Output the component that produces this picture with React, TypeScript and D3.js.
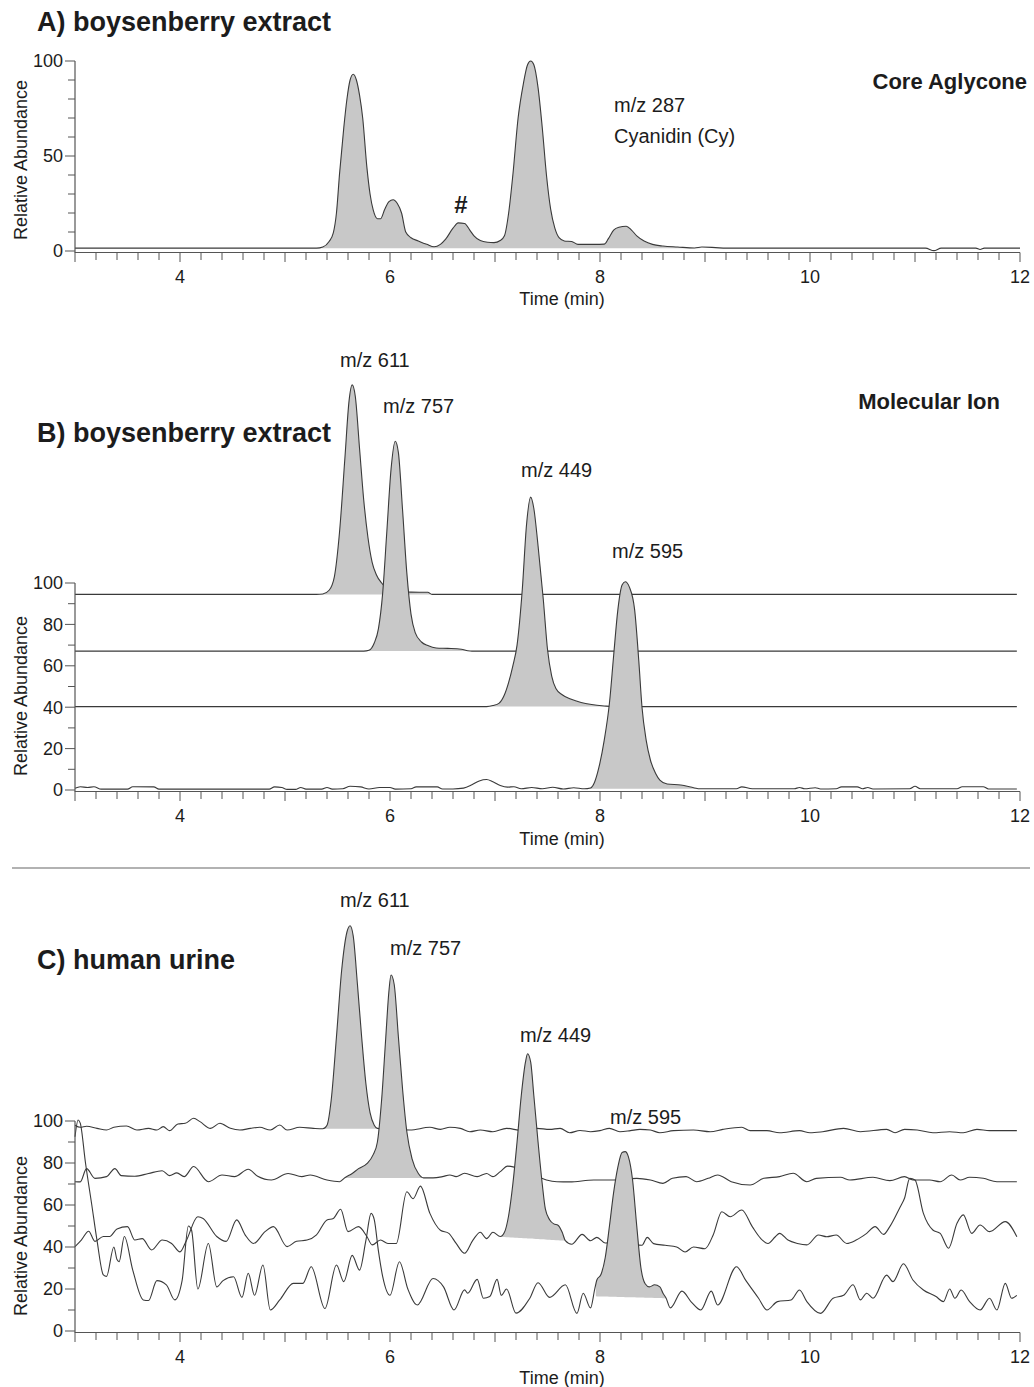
import React from "react";
import * as d3 from "d3";

type Pt = [number, number];
type Fill = [number, number, number, number]; // t start, t end, base at start, base at end

const xLabels = [4, 6, 8, 10, 12];
const yLabelsA = [0, 50, 100];
const yLabelsBC = [0, 20, 40, 60, 80, 100];

// A) boysenberry extract, m/z 287 (core aglycone)
const aglycone287: Pt[] = [
  [3, 1.5], [5.3, 1.5], [5.36, 2.1], [5.42, 5], [5.46, 9.5], [5.49, 20], [5.52, 41], [5.56, 65], [5.59, 80],
  [5.62, 90], [5.65, 93], [5.68, 90], [5.71, 82], [5.74, 70], [5.78, 44], [5.81, 30], [5.84, 21.6], [5.88, 17],
  [5.91, 17], [5.95, 22], [5.99, 26], [6.03, 27], [6.07, 25], [6.11, 20], [6.15, 10], [6.2, 7], [6.27, 5.3],
  [6.35, 3.5], [6.42, 2.2], [6.48, 3.5], [6.53, 6.2], [6.6, 12], [6.65, 14.8], [6.71, 14.5], [6.76, 11], [6.8, 8],
  [6.86, 5.5], [6.93, 4.6], [6.99, 4.4], [7.05, 5.5], [7.09, 8], [7.13, 20], [7.17, 40], [7.22, 70], [7.27, 88],
  [7.31, 98], [7.34, 100], [7.37, 98], [7.41, 86], [7.45, 65], [7.49, 40], [7.53, 22], [7.57, 12], [7.61, 7],
  [7.66, 5.3], [7.73, 5.0], [7.79, 3.5], [7.95, 3.5], [8.04, 3.6], [8.08, 6.5], [8.13, 11], [8.18, 12.5],
  [8.25, 13], [8.3, 11], [8.35, 8], [8.42, 5.3], [8.5, 3.5], [8.6, 2.6], [8.74, 2.1], [8.9, 1.6], [8.97, 2.1],
  [9.1, 1.8], [9.2, 1.5], [11.1, 1.5], [11.18, 0.2], [11.25, 1.5], [11.58, 1.5], [11.62, 0.8], [11.66, 1.5], [12, 1.5],
];
const aglyconeFill: Fill = [5.3, 8.95, 1.5, 1.5];

// B) boysenberry extract, molecular ions (stacked)
const extract611: Pt[] = [
  [3, 94.5], [5.3, 94.5], [5.36, 94.7], [5.42, 96.5], [5.47, 103], [5.52, 125], [5.57, 160], [5.61, 188],
  [5.64, 195.7], [5.67, 190], [5.71, 165], [5.75, 140], [5.79, 122], [5.83, 110], [5.87, 104], [5.92, 100],
  [5.97, 97.5], [6.05, 96], [6.2, 95.6], [6.36, 95.5], [6.4, 94.5], [11.97, 94.5],
];
const extract757: Pt[] = [
  [3, 67.1], [5.75, 67.1], [5.8, 67.5], [5.85, 71], [5.89, 78], [5.93, 95], [5.97, 125], [6.01, 155],
  [6.05, 168.5], [6.08, 163], [6.12, 135], [6.16, 105], [6.2, 85], [6.24, 76], [6.3, 71.5], [6.36, 69.8],
  [6.44, 68.6], [6.55, 68.4], [6.68, 68], [6.74, 67.3], [6.78, 67.1], [11.97, 67.1],
];
const extract449: Pt[] = [
  [3, 40.3], [6.92, 40.3], [6.98, 40.8], [7.04, 42], [7.09, 46], [7.13, 52], [7.17, 60], [7.21, 70], [7.26, 97],
  [7.3, 128], [7.34, 141.5], [7.37, 136], [7.41, 118], [7.46, 92], [7.5, 68], [7.54, 55], [7.58, 49], [7.64, 46],
  [7.72, 44], [7.82, 42.3], [7.92, 41.3], [8.04, 40.6], [8.12, 40.3], [11.97, 40.3],
];
const extract595: Pt[] = [
  [3.0, 0.8], [3.05, 1.6], [3.12, 1.2], [3.18, 1.6], [3.25, 0.4], [3.5, 0.4], [3.55, 1.6], [3.75, 1.5], [3.8, 0.4],
  [4.85, 0.4], [4.9, 1.5], [4.97, 1.2], [5.02, 0.3], [5.1, 0.3], [5.15, 1.2], [5.2, 0.4], [5.35, 0.4], [5.4, 1.2],
  [5.45, 0.4], [5.55, 0.6], [5.62, 1.8], [5.72, 1.5], [5.8, 0.5], [5.9, 1.2], [6.0, 1.2], [6.05, 0.4], [6.2, 0.6],
  [6.25, 1.5], [6.45, 1.5], [6.5, 0.5], [6.6, 0.5], [6.7, 0.9], [6.78, 2.5], [6.85, 4.4], [6.92, 5.1], [6.98, 4],
  [7.05, 2.2], [7.12, 1.4], [7.18, 1.6], [7.25, 0.6], [7.35, 1.2], [7.45, 0.6], [7.55, 1.3], [7.65, 0.5],
  [7.75, 1.1], [7.85, 0.6], [7.91, 1], [7.95, 4], [7.99, 11], [8.04, 24], [8.09, 42], [8.13, 65], [8.17, 87],
  [8.21, 99], [8.24, 100.6], [8.28, 98], [8.33, 87], [8.37, 62], [8.4, 40], [8.44, 24], [8.48, 14.5], [8.53, 8],
  [8.57, 4.8], [8.64, 2.9], [8.77, 2.4], [8.9, 1], [8.95, 0.6], [9.3, 0.6], [9.35, 1.5], [9.45, 0.6], [9.85, 0.6],
  [9.9, 1.2], [9.95, 0.6], [10.05, 1.1], [10.1, 0.5], [10.25, 0.6], [10.3, 1.5], [10.45, 1.5], [10.5, 0.6],
  [10.55, 1.2], [10.6, 0.5], [10.95, 0.6], [11.0, 1.8], [11.05, 0.6], [11.4, 0.6], [11.45, 1.6], [11.65, 1.6],
  [11.7, 0.5], [11.97, 0.5],
];
const extractFills: Fill[] = [
  [5.3, 6.4, 94.5, 94.5],
  [5.75, 6.78, 67.1, 67.1],
  [6.92, 8.12, 40.3, 40.3],
  [7.85, 8.95, 0.6, 0.6],
];

// C) human urine, molecular ions (stacked)
const urine611: Pt[] = [
  [3.0, 98], [3.05, 97], [3.11, 97.5], [3.21, 96.5], [3.3, 95.7], [3.37, 97], [3.49, 97.6], [3.59, 95.7],
  [3.7, 96.5], [3.78, 95.7], [3.84, 97.3], [3.9, 95.4], [3.98, 98.6], [4.05, 98.9], [4.13, 101.3], [4.19, 99.7],
  [4.29, 96.5], [4.38, 98.9], [4.48, 96.5], [4.57, 95.7], [4.67, 96.5], [4.76, 97], [4.86, 95.7], [4.95, 98.1],
  [5.02, 95.7], [5.14, 97], [5.27, 96.5], [5.36, 96.3], [5.4, 98], [5.44, 110], [5.49, 140], [5.54, 172],
  [5.59, 190], [5.62, 193], [5.65, 188], [5.69, 165], [5.73, 140], [5.77, 118], [5.81, 104], [5.85, 98],
  [5.88, 96.5], [6.0, 96], [6.19, 95.7], [6.38, 97], [6.48, 96], [6.57, 97], [6.67, 96.5], [6.76, 94.9],
  [6.86, 95.7], [6.98, 94.9], [7.11, 96.5], [7.25, 95.5], [7.4, 96.5], [7.52, 96], [7.62, 96.5], [7.71, 94.4],
  [7.81, 95.5], [7.91, 94.9], [8.0, 95.4], [8.09, 96.5], [8.19, 94.9], [8.29, 95.4], [8.38, 96], [8.48, 95.7],
  [8.57, 94.4], [8.7, 95.4], [8.89, 95.7], [9.05, 94.9], [9.17, 96], [9.35, 97], [9.43, 95.4], [9.59, 95.4],
  [9.71, 94.4], [9.9, 95.4], [10.0, 94.4], [10.12, 94.9], [10.32, 96.5], [10.48, 94.9], [10.73, 96],
  [10.81, 94.4], [10.9, 96], [11.02, 95.7], [11.17, 94.4], [11.33, 94.9], [11.46, 94.4], [11.59, 96],
  [11.71, 95.4], [11.97, 95.4],
];
const urine757: Pt[] = [
  [3.0, 71.1], [3.05, 71], [3.11, 77.3], [3.19, 72.7], [3.3, 73.5], [3.38, 77.3], [3.44, 74], [3.57, 73.7],
  [3.7, 75], [3.83, 76.3], [3.9, 74], [3.97, 75.3], [4.04, 73.5], [4.13, 78.3], [4.27, 71.1], [4.4, 74.3],
  [4.52, 73.5], [4.65, 77], [4.74, 73.7], [4.87, 71.9], [5.03, 75], [5.16, 73.5], [5.24, 74.3], [5.4, 71.9],
  [5.52, 71.1], [5.57, 73], [5.64, 75], [5.7, 77.3], [5.78, 79.7], [5.84, 84], [5.88, 90], [5.92, 110],
  [5.96, 140], [5.99, 162], [6.01, 169.5], [6.04, 165], [6.08, 140], [6.12, 115], [6.16, 95], [6.21, 82],
  [6.27, 75], [6.32, 72.9], [6.41, 72.9], [6.5, 73.5], [6.57, 74.3], [6.63, 73.5], [6.71, 75.1], [6.83, 73.5],
  [6.92, 75], [6.98, 73.5], [7.05, 75.9], [7.12, 78.5], [7.3, 76], [7.49, 71.9], [7.59, 71.1], [7.71, 71],
  [7.94, 71.9], [8.13, 71.9], [8.35, 72.7], [8.48, 71.9], [8.6, 70.3], [8.69, 72.7], [8.82, 73.5], [8.92, 71.1],
  [9.03, 72.7], [9.12, 74.3], [9.25, 71.1], [9.43, 69.5], [9.56, 72.7], [9.71, 73.5], [9.84, 75.1], [9.97, 71.1],
  [10.06, 72.7], [10.29, 73.2], [10.38, 71.9], [10.6, 73.2], [10.76, 71.6], [10.9, 73.5], [10.98, 71.9],
  [11.14, 71.9], [11.24, 71.1], [11.35, 74.3], [11.43, 71.9], [11.52, 73.2], [11.65, 72.7], [11.78, 71.1],
  [11.97, 71.1],
];
const urine449: Pt[] = [
  [3.0, 40.2], [3.06, 43.3], [3.13, 47.5], [3.19, 42.7], [3.27, 45], [3.33, 45], [3.4, 48.6], [3.5, 49.7],
  [3.57, 43.3], [3.64, 44], [3.73, 38.6], [3.83, 43.3], [3.92, 41.7], [4.0, 37.7], [4.06, 43], [4.17, 54.4],
  [4.22, 53.6], [4.35, 45], [4.44, 42.7], [4.54, 52.9], [4.62, 45.8], [4.7, 41.7], [4.81, 47.3], [4.89, 49.7],
  [5.02, 40.2], [5.11, 42.7], [5.21, 43.3], [5.3, 45.8], [5.4, 52.9], [5.46, 53.6], [5.53, 58], [5.6, 47.3],
  [5.7, 49.7], [5.78, 45], [5.83, 41], [5.91, 43.3], [5.98, 41.7], [6.06, 41.7], [6.16, 66.3], [6.22, 63],
  [6.29, 69], [6.38, 56], [6.48, 48], [6.56, 46.5], [6.63, 41.7], [6.71, 37], [6.79, 43.3], [6.86, 47],
  [6.92, 44], [6.98, 47], [7.05, 45], [7.09, 47], [7.13, 55], [7.17, 70], [7.21, 90], [7.25, 112], [7.29, 128],
  [7.31, 132], [7.34, 128], [7.37, 112], [7.41, 90], [7.45, 70], [7.48, 58], [7.52, 53], [7.56, 51],
  [7.6, 50.4], [7.64, 47], [7.67, 43], [7.73, 41.3], [7.83, 46], [7.91, 43], [7.97, 44.6], [8.05, 41.9],
  [8.2, 42], [8.33, 41], [8.4, 40.8], [8.45, 44.6], [8.51, 41.6], [8.62, 40.8], [8.73, 40], [8.81, 37.6],
  [8.89, 40], [9.0, 39.2], [9.08, 46], [9.16, 56.8], [9.24, 54.4], [9.35, 57.6], [9.45, 49.7], [9.53, 44.1],
  [9.6, 41.7], [9.67, 44.9], [9.71, 46.5], [9.79, 43.3], [9.88, 41.7], [9.97, 41], [10.08, 45.7], [10.16, 44.9],
  [10.25, 45.7], [10.35, 41.7], [10.44, 43.3], [10.54, 46.5], [10.62, 49.7], [10.7, 46], [10.76, 49.7],
  [10.86, 59.2], [10.9, 63.2], [10.95, 72.7], [11.0, 71.9], [11.08, 56], [11.17, 48.1], [11.24, 46.5],
  [11.32, 39.4], [11.4, 51.3], [11.46, 55.3], [11.54, 46.5], [11.62, 50.5], [11.71, 47.3], [11.86, 52.1],
  [11.97, 44.9],
];
const urine595: Pt[] = [
  [3.0, 92.5], [3.03, 100.5], [3.05, 99], [3.1, 80], [3.16, 60], [3.21, 43], [3.27, 26.7], [3.3, 26], [3.37, 40],
  [3.4, 34], [3.42, 33], [3.47, 45], [3.55, 29], [3.65, 14.8], [3.7, 14.5], [3.78, 24], [3.87, 22], [3.95, 14.8],
  [4.02, 24], [4.08, 50], [4.11, 48], [4.17, 20], [4.27, 41.7], [4.35, 21], [4.41, 24], [4.51, 25.8], [4.59, 16],
  [4.65, 27.5], [4.71, 17], [4.79, 31.4], [4.86, 10], [4.95, 14.8], [5.08, 22.7], [5.17, 22.7], [5.25, 30.6],
  [5.38, 10.7], [5.49, 31.4], [5.56, 23.5], [5.64, 36], [5.71, 29], [5.77, 43], [5.82, 56], [5.85, 53],
  [5.89, 38], [5.93, 26], [6.0, 17], [6.09, 33], [6.17, 20], [6.26, 12.4], [6.41, 25], [6.51, 21], [6.61, 10],
  [6.71, 19.6], [6.74, 18], [6.83, 24.6], [6.89, 15.6], [6.95, 16.4], [7.02, 24.6], [7.06, 17], [7.11, 20],
  [7.2, 8.5], [7.33, 15.5], [7.41, 23], [7.52, 16], [7.67, 22], [7.78, 8.4], [7.84, 18], [7.91, 11], [7.95, 20],
  [7.97, 24.3], [8.01, 27], [8.05, 35], [8.09, 50], [8.13, 66], [8.17, 78], [8.21, 85], [8.24, 85.4], [8.27, 83],
  [8.31, 72], [8.35, 50], [8.39, 30], [8.43, 22.5], [8.47, 21], [8.52, 22], [8.57, 21], [8.6, 18], [8.63, 15.6],
  [8.67, 11], [8.78, 19], [8.87, 13.8], [8.96, 10], [9.06, 19], [9.12, 12.4], [9.3, 30.6], [9.39, 24],
  [9.51, 15.6], [9.59, 10], [9.69, 14], [9.82, 14.8], [9.9, 19.5], [9.97, 14], [10.1, 8.4], [10.22, 15.6],
  [10.32, 17], [10.41, 22], [10.48, 14.8], [10.54, 18], [10.6, 15.6], [10.73, 26.6], [10.79, 23.5], [10.89, 32],
  [10.98, 24.3], [11.08, 19.5], [11.2, 16.4], [11.27, 14], [11.33, 20], [11.38, 15.6], [11.44, 19.5], [11.52, 14],
  [11.62, 10], [11.71, 15.6], [11.78, 10], [11.86, 22.7], [11.92, 15.6], [11.97, 17],
];
const urineFills: Fill[] = [
  [5.36, 5.88, 96.3, 96.3],
  [5.57, 6.32, 72.9, 72.9],
  [7.05, 7.67, 44.9, 43],
  [7.96, 8.63, 16.5, 15.6],
];

const FONT = "'Liberation Sans', Arial, Helvetica, sans-serif";
const INK = "#1c1c1c";

const x = d3.scaleLinear().domain([3, 12]).range([75, 1020]);
const yA = d3.scaleLinear().domain([0, 100]).range([251, 61]);
const yB = d3.scaleLinear().domain([0, 100]).range([790, 583]);
const yC = d3.scaleLinear().domain([0, 100]).range([1331, 1121]);

function valueAt(pts: Pt[], t: number) {
  for (let i = 1; i < pts.length; i++) {
    if (pts[i][0] >= t) {
      const [t0, v0] = pts[i - 1];
      const [t1, v1] = pts[i];
      return v0 + ((v1 - v0) * (t - t0)) / (t1 - t0);
    }
  }
  return pts[pts.length - 1][1];
}

function Trace({ pts, fill, y }: { pts: Pt[]; fill?: Fill; y: d3.ScaleLinear<number, number> }) {
  const line = d3.line<Pt>().x((d) => x(d[0])).y((d) => y(d[1])).curve(d3.curveMonotoneX);
  let area: string | null = null;
  if (fill) {
    const [t0, t1, b0, b1] = fill;
    const seg: Pt[] = [[t0, valueAt(pts, t0)], ...pts.filter((p) => p[0] > t0 && p[0] < t1), [t1, valueAt(pts, t1)]];
    area = d3
      .area<Pt>()
      .x((d) => x(d[0]))
      .y1((d) => y(d[1]))
      .y0((d) => y(b0 + ((b1 - b0) * (d[0] - t0)) / (t1 - t0)))
      .curve(d3.curveMonotoneX)(seg);
  }
  return (
    <g>
      {area && <path d={area} fill="#c8c8c8" stroke="none" />}
      <path d={line(pts) || ""} fill="none" stroke="#3a3a3a" strokeWidth={1.1} strokeLinejoin="round" />
    </g>
  );
}

function Axes({ y, labels, titleY, timeY }: { y: d3.ScaleLinear<number, number>; labels: number[]; titleY: number; timeY: number }) {
  const y0 = y(0);
  const minorX = d3.range(0, 46).map((i) => 3 + i * 0.2);
  const minorY = d3.range(0, 101, 10);
  return (
    <g stroke="#555" fill="none">
      <line x1={75} x2={75} y1={y(100)} y2={y0 + 2} strokeWidth={1.2} />
      <line x1={75} x2={1020} y1={y0 + 1.5} y2={y0 + 1.5} strokeWidth={1.2} />
      {minorX.map((t, i) => (
        <line key={"x" + i} x1={x(t)} x2={x(t)} y1={y0 + 1.5} y2={y0 + (i % 5 === 0 ? 11 : 9)} strokeWidth={1} />
      ))}
      {minorY.map((v) => (
        <line key={"y" + v} x1={labels.includes(v) ? 65 : 68} x2={75} y1={y(v)} y2={y(v)} strokeWidth={1} />
      ))}
      <g stroke="none" fill={INK} fontFamily={FONT} fontSize={18}>
        {labels.map((v) => (
          <text key={v} x={63} y={y(v)} dy="0.36em" textAnchor="end">
            {v}
          </text>
        ))}
        {xLabels.map((t) => (
          <text key={t} x={x(t)} y={y0 + 32} textAnchor="middle">
            {t}
          </text>
        ))}
        <text x={562} y={timeY} textAnchor="middle">
          Time (min)
        </text>
        <text transform={`translate(27,${titleY}) rotate(-90)`} textAnchor="middle">
          Relative Abundance
        </text>
      </g>
    </g>
  );
}

export default function App() {
  const lbl = { fontFamily: FONT, fill: INK, fontSize: 20 };
  const bold = { fontFamily: FONT, fill: INK, fontWeight: 700 as const };
  return (
    <svg width={1034} height={1387} style={{ position: "absolute", left: 0, top: 0, background: "#fff" }}>
      {/* A */}
      <text x={37} y={31} fontSize={27} {...bold}>A) boysenberry extract</text>
      <Trace pts={aglycone287} fill={aglyconeFill} y={yA} />
      <Axes y={yA} labels={yLabelsA} titleY={160} timeY={305} />
      <text x={1027} y={89} fontSize={22} textAnchor="end" {...bold}>Core Aglycone</text>
      <text x={614} y={112} {...lbl}>m/z 287</text>
      <text x={614} y={143} {...lbl}>Cyanidin (Cy)</text>
      <text x={461} y={213} fontSize={24} textAnchor="middle" {...bold}>#</text>

      {/* B */}
      <text x={37} y={442} fontSize={27} {...bold}>B) boysenberry extract</text>
      {[extract611, extract757, extract449, extract595].map((pts, i) => (
        <Trace key={i} pts={pts} fill={extractFills[i]} y={yB} />
      ))}
      <Axes y={yB} labels={yLabelsBC} titleY={696} timeY={845} />
      <text x={1000} y={409} fontSize={22} textAnchor="end" {...bold}>Molecular Ion</text>
      <text x={340} y={367} {...lbl}>m/z 611</text>
      <text x={383} y={413} {...lbl}>m/z 757</text>
      <text x={521} y={477} {...lbl}>m/z 449</text>
      <text x={612} y={558} {...lbl}>m/z 595</text>

      <line x1={12} x2={1030} y1={868} y2={868} stroke="#999" strokeWidth={1.5} />

      {/* C */}
      <text x={37} y={969} fontSize={27} {...bold}>C) human urine</text>
      {[urine611, urine757, urine449, urine595].map((pts, i) => (
        <Trace key={i} pts={pts} fill={urineFills[i]} y={yC} />
      ))}
      <Axes y={yC} labels={yLabelsBC} titleY={1236} timeY={1384} />
      <text x={340} y={907} {...lbl}>m/z 611</text>
      <text x={390} y={955} {...lbl}>m/z 757</text>
      <text x={520} y={1042} {...lbl}>m/z 449</text>
      <text x={610} y={1124} {...lbl}>m/z 595</text>
    </svg>
  );
}
